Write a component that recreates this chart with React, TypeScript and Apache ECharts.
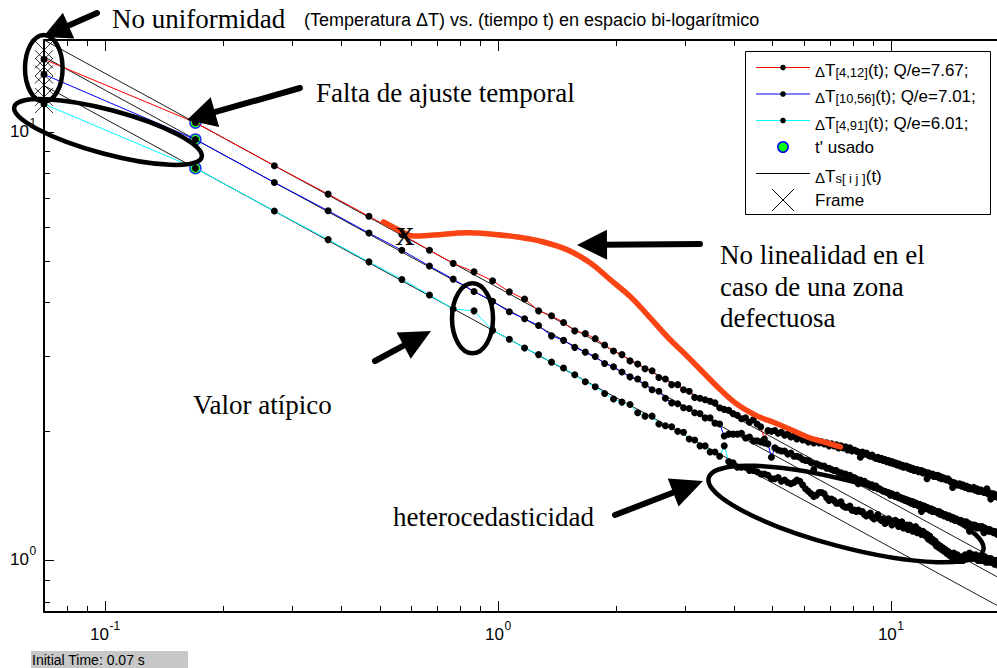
import { useEffect, useRef } from 'react';
import * as echarts from 'echarts';

// Frame times (s), one frame every 0.1 s from the initial time
const TIMES = [
  0.07, 0.17, 0.27, 0.37, 0.47, 0.57, 0.67, 0.77, 0.87, 0.97,
  1.07, 1.17, 1.27, 1.37, 1.47, 1.57, 1.67, 1.77, 1.87, 1.97,
  2.07, 2.17, 2.27, 2.37, 2.47, 2.57, 2.67, 2.77, 2.87, 2.97,
  3.07, 3.17, 3.27, 3.37, 3.47, 3.57, 3.67, 3.77, 3.87, 3.97,
  4.07, 4.17, 4.27, 4.37, 4.47, 4.57, 4.67, 4.77, 4.87, 4.97,
  5.07, 5.17, 5.27, 5.37, 5.47, 5.57, 5.67, 5.77, 5.87, 5.97,
  6.07, 6.17, 6.27, 6.37, 6.47, 6.57, 6.67, 6.77, 6.87, 6.97,
  7.07, 7.17, 7.27, 7.37, 7.47, 7.57, 7.67, 7.77, 7.87, 7.97,
  8.07, 8.17, 8.27, 8.37, 8.47, 8.57, 8.67, 8.77, 8.87, 8.97,
  9.07, 9.17, 9.27, 9.37, 9.47, 9.57, 9.67, 9.77, 9.87, 9.97,
  10.07, 10.17, 10.27, 10.37, 10.47, 10.57, 10.67, 10.77, 10.87, 10.97,
  11.07, 11.17, 11.27, 11.37, 11.47, 11.57, 11.67, 11.77, 11.87, 11.97,
  12.07, 12.17, 12.27, 12.37, 12.47, 12.57, 12.67, 12.77, 12.87, 12.97,
  13.07, 13.17, 13.27, 13.37, 13.47, 13.57, 13.67, 13.77, 13.87, 13.97,
  14.07, 14.17, 14.27, 14.37, 14.47, 14.57, 14.67, 14.77, 14.87, 14.97,
  15.07, 15.17, 15.27, 15.37, 15.47, 15.57, 15.67, 15.77, 15.87, 15.97,
  16.07, 16.17, 16.27, 16.37, 16.47, 16.57, 16.67, 16.77, 16.87, 16.97,
  17.07, 17.17, 17.27, 17.37, 17.47, 17.57, 17.67, 17.77, 17.87, 17.97,
  18.07, 18.17, 18.27, 18.37, 18.47, 18.57, 18.67, 18.77, 18.87, 18.97,
];

// ΔT[4,12](t)
const DT_4_12 = [
  14.75, 10.5, 8.33, 7.15, 6.35, 5.76, 5.29, 4.93, 4.71, 4.49,
  4.23, 4.07, 3.82, 3.72, 3.59, 3.43, 3.38, 3.29, 3.18, 3.08,
  3.02, 2.92, 2.87, 2.8, 2.77, 2.67, 2.65, 2.57, 2.57, 2.5,
  2.48, 2.4, 2.39, 2.37, 2.35, 2.33, 2.27, 2.25, 2.24, 2.2,
  2.18, 2.14, 2.15, 2.1, 2.13, 2.08, 2.05, 1.92, 2.01, 2.0,
  2.01, 1.98, 1.99, 1.96, 1.97, 1.94, 1.95, 1.92, 1.94, 1.91,
  1.92, 1.89, 1.91, 1.88, 1.9, 1.88, 1.89, 1.87, 1.88, 1.85,
  1.87, 1.85, 1.86, 1.83, 1.85, 1.83, 1.84, 1.81, 1.83, 1.8,
  1.81, 1.8, 1.79, 1.74, 1.79, 1.77, 1.78, 1.76, 1.75, 1.76,
  1.74, 1.73, 1.74, 1.72, 1.73, 1.71, 1.72, 1.7, 1.71, 1.69,
  1.7, 1.68, 1.69, 1.67, 1.68, 1.66, 1.67, 1.65, 1.66, 1.66,
  1.64, 1.65, 1.63, 1.64, 1.62, 1.63, 1.63, 1.61, 1.62, 1.62,
  1.6, 1.61, 1.6, 1.55, 1.6, 1.59, 1.58, 1.59, 1.57, 1.58,
  1.57, 1.58, 1.56, 1.57, 1.55, 1.56, 1.55, 1.55, 1.54, 1.55,
  1.54, 1.53, 1.52, 1.48, 1.52, 1.51, 1.51, 1.5, 1.5, 1.51,
  1.5, 1.49, 1.5, 1.49, 1.48, 1.49, 1.48, 1.47, 1.48, 1.47,
  1.47, 1.47, 1.48, 1.46, 1.46, 1.47, 1.45, 1.46, 1.45, 1.46,
  1.45, 1.45, 1.44, 1.45, 1.44, 1.47, 1.43, 1.44, 1.43, 1.39,
  1.43, 1.42, 1.43, 1.41, 1.42, 1.41, 1.42, 1.4, 1.41, 1.4,
];

// ΔT[10,56](t)
const DT_10_56 = [
  13.6, 9.59, 7.61, 6.54, 5.8, 5.29, 4.86, 4.53, 4.24, 4.02,
  3.8, 3.66, 3.53, 3.34, 3.26, 3.14, 3.06, 2.99, 2.88, 2.83,
  2.75, 2.68, 2.65, 2.57, 2.5, 2.48, 2.39, 2.33, 2.32, 2.27,
  2.26, 2.21, 2.2, 2.15, 2.15, 2.09, 2.08, 1.95, 1.97, 1.97,
  1.97, 1.98, 1.93, 1.94, 1.9, 1.9, 1.89, 1.88, 1.87, 1.74,
  1.83, 1.81, 1.8, 1.8, 1.77, 1.78, 1.75, 1.75, 1.74, 1.72,
  1.71, 1.71, 1.69, 1.63, 1.68, 1.67, 1.66, 1.66, 1.64, 1.64,
  1.63, 1.62, 1.62, 1.6, 1.6, 1.59, 1.59, 1.57, 1.58, 1.56,
  1.56, 1.55, 1.51, 1.54, 1.52, 1.53, 1.51, 1.51, 1.49, 1.5,
  1.48, 1.49, 1.47, 1.47, 1.46, 1.45, 1.45, 1.44, 1.44, 1.42,
  1.43, 1.42, 1.41, 1.42, 1.4, 1.4, 1.39, 1.39, 1.38, 1.38,
  1.37, 1.37, 1.36, 1.37, 1.35, 1.36, 1.35, 1.34, 1.35, 1.3,
  1.34, 1.34, 1.32, 1.33, 1.32, 1.31, 1.32, 1.3, 1.31, 1.3,
  1.3, 1.29, 1.3, 1.28, 1.29, 1.28, 1.27, 1.28, 1.27, 1.26,
  1.27, 1.26, 1.25, 1.26, 1.25, 1.24, 1.25, 1.24, 1.24, 1.23,
  1.24, 1.23, 1.22, 1.23, 1.22, 1.23, 1.21, 1.22, 1.17, 1.21,
  1.21, 1.21, 1.2, 1.21, 1.2, 1.19, 1.2, 1.2, 1.19, 1.19,
  1.2, 1.19, 1.16, 1.19, 1.18, 1.18, 1.18, 1.17, 1.18, 1.17,
  1.17, 1.17, 1.16, 1.17, 1.16, 1.16, 1.15, 1.16, 1.15, 1.16,
];

// ΔT[4,91](t)
const DT_4_91 = [
  11.6, 8.22, 6.53, 5.6, 4.97, 4.52, 4.16, 3.86, 3.82, 3.44,
  3.28, 3.13, 3.02, 2.9, 2.81, 2.71, 2.61, 2.54, 2.45, 2.38,
  2.34, 2.31, 2.21, 2.17, 2.17, 2.08, 2.06, 2.05, 2.0, 1.99,
  1.92, 1.91, 1.85, 1.85, 1.79, 1.79, 1.75, 1.85, 1.7, 1.69,
  1.65, 1.65, 1.65, 1.62, 1.62, 1.61, 1.59, 1.59, 1.58, 1.55,
  1.55, 1.56, 1.53, 1.54, 1.52, 1.51, 1.52, 1.54, 1.53, 1.5,
  1.47, 1.45, 1.43, 1.41, 1.42, 1.44, 1.44, 1.43, 1.4, 1.38,
  1.39, 1.38, 1.36, 1.36, 1.37, 1.34, 1.33, 1.33, 1.34, 1.31,
  1.31, 1.3, 1.31, 1.3, 1.3, 1.28, 1.27, 1.28, 1.29, 1.26,
  1.25, 1.26, 1.28, 1.25, 1.24, 1.25, 1.22, 1.23, 1.25, 1.24,
  1.21, 1.22, 1.24, 1.23, 1.2, 1.22, 1.23, 1.19, 1.2, 1.21,
  1.18, 1.21, 1.19, 1.17, 1.19, 1.2, 1.16, 1.18, 1.17, 1.15,
  1.17, 1.16, 1.14, 1.15, 1.12, 1.14, 1.11, 1.12, 1.1, 1.11,
  1.08, 1.09, 1.07, 1.08, 1.06, 1.07, 1.05, 1.06, 1.04, 1.05,
  1.03, 1.04, 1.02, 1.03, 1.04, 1.02, 1.01, 1.03, 1.02, 1.0,
  1.01, 1.02, 1.0, 1.01, 1.03, 1.02, 1.01, 1.03, 1.04, 1.02,
  1.01, 1.03, 1.02, 1.01, 1.03, 1.02, 1.0, 1.01, 1.02, 1.0,
  1.01, 1.0, 1.02, 1.01, 0.99, 1.01, 1.0, 0.99, 1.0, 1.01,
  0.99, 0.99, 1.0, 0.98, 0.99, 1.0, 0.98, 0.99, 0.97, 0.98,
];

// Fitted ΔTs lines (straight in log-log), end points
const FIT_T = [0.07, 20];
const FIT_4_12 = [16.36, 0.9676];
const FIT_10_56 = [14.95, 0.8843];
const FIT_4_91 = [12.81, 0.7582];

// t' used for each pixel and its value
const T_USED = 0.17;
const T_USED_VALUES = [10.5, 9.59, 8.22];

// First frame marks
const FRAME_T = 0.07;
const FRAME_VALUES = [15.5, 14.75, 14.15, 13.6, 12.85, 12.05, 11.6];

// Curve of a defective zone
const DEFECT_T = [0.512, 0.566, 0.61, 0.686, 0.837, 0.958, 1.122, 1.307, 1.504, 1.721, 1.936, 2.176, 2.404, 2.703, 3.039, 3.338, 3.687, 4.073, 4.58, 5.029, 5.557, 6.138, 6.743, 7.447];
const DEFECT_V = [6.16, 5.87, 5.71, 5.74, 5.81, 5.77, 5.68, 5.53, 5.3, 4.94, 4.51, 4.12, 3.74, 3.32, 2.99, 2.74, 2.5, 2.31, 2.17, 2.1, 2.02, 1.94, 1.89, 1.84];

// Axis ranges and ticks
const T_MIN = 0.07;
const T_MAX = 20;
const V_MIN = 0.758;
const V_MAX = 16.36;
const X_MAJOR = [0.1, 1, 10];
const X_MINOR = [0.08, 0.09, 0.2, 0.3, 0.4, 0.5, 0.6, 0.7, 0.8, 0.9, 2, 3, 4, 5, 6, 7, 8, 9];
const Y_MAJOR = [1, 10];
const Y_MINOR = [0.8, 0.9, 2, 3, 4, 5, 6, 7, 8, 9];

const SANS = '"Liberation Sans", Arial, sans-serif';
const SERIF = '"Liberation Serif", "Times New Roman", serif';

const txt = (x: number, y: number, text: string, font: string, align = 'left', extra: any = {}) => ({
  type: 'text',
  x,
  y,
  z: 100,
  silent: true,
  style: {
    text,
    font,
    fill: '#000',
    align,
    textAlign: align,
    verticalAlign: 'middle',
    textVerticalAlign: 'middle',
    ...extra,
  },
});

function arrow(tail: number[], tip: number[], headLen: number, headHalf: number, width: number) {
  const dx = tip[0] - tail[0];
  const dy = tip[1] - tail[1];
  const L = Math.hypot(dx, dy);
  const ux = dx / L;
  const uy = dy / L;
  const bx = tip[0] - ux * headLen;
  const by = tip[1] - uy * headLen;
  const px = -uy;
  const py = ux;
  return [
    {
      type: 'line', z: 100, silent: true,
      shape: { x1: tail[0], y1: tail[1], x2: bx + ux * 3, y2: by + uy * 3 },
      style: { stroke: '#000', lineWidth: width, lineCap: 'round' },
    },
    {
      type: 'polygon', z: 100, silent: true,
      shape: { points: [tip, [bx + px * headHalf, by + py * headHalf], [bx - px * headHalf, by - py * headHalf]] },
      style: { fill: '#000' },
    },
  ];
}

function ellipse(cx: number, cy: number, rx: number, ry: number, deg: number) {
  return {
    type: 'ellipse', z: 100, silent: true,
    x: cx, y: cy, rotation: (deg * Math.PI) / 180,
    shape: { cx: 0, cy: 0, rx, ry },
    style: { fill: 'none', stroke: '#000', lineWidth: 4.5 },
  };
}

const LEG_RICH = {
  t: { fontSize: 17, fontFamily: SANS, lineHeight: 22, fill: '#000', verticalAlign: 'bottom' },
  d: { fontSize: 15, fontFamily: SANS, lineHeight: 20, fill: '#000', verticalAlign: 'bottom' },
  s: { fontSize: 13, fontFamily: SANS, lineHeight: 14, fill: '#000', verticalAlign: 'bottom' },
};

function legendGraphics() {
  const rows = [67.5, 94, 120.5, 147, 173.5, 200];
  const x1 = 756;
  const x2 = 810;
  const xm = 783;
  const tx = 815;
  const els: any[] = [
    {
      type: 'rect', z: 99, silent: true,
      shape: { x: 745.5, y: 51.5, width: 245, height: 163 },
      style: { fill: '#fff', stroke: '#000', lineWidth: 1 },
    },
  ];
  const lineRow = (y: number, color: string, dot: boolean) => {
    els.push({ type: 'line', z: 100, silent: true, shape: { x1, y1: y, x2, y2: y }, style: { stroke: color, lineWidth: 1 } });
    if (dot) els.push({ type: 'circle', z: 101, silent: true, shape: { cx: xm, cy: y, r: 2.8 }, style: { fill: '#000' } });
  };
  lineRow(rows[0], '#ff0000', true);
  lineRow(rows[1], '#0000ff', true);
  lineRow(rows[2], '#00ffff', true);
  els.push({ type: 'circle', z: 100, silent: true, shape: { cx: xm, cy: rows[3], r: 5.2 }, style: { fill: '#00ff00', stroke: '#0000ff', lineWidth: 1.5 } });
  lineRow(rows[4], '#000000', false);
  els.push({ type: 'line', z: 100, silent: true, shape: { x1: xm - 11, y1: rows[5] - 11, x2: xm + 11, y2: rows[5] + 11 }, style: { stroke: '#000', lineWidth: 1 } });
  els.push({ type: 'line', z: 100, silent: true, shape: { x1: xm + 11, y1: rows[5] - 11, x2: xm - 11, y2: rows[5] + 11 }, style: { stroke: '#000', lineWidth: 1 } });

  const richRow = (y: number, text: string) =>
    els.push({
      type: 'text', x: tx, y, z: 101, silent: true,
      style: { text, rich: LEG_RICH, fill: '#000', align: 'left', textAlign: 'left', verticalAlign: 'middle', textVerticalAlign: 'middle' },
    });
  richRow(rows[0], '{d|Δ}{t|T}{s|[4,12]}{t|(t); Q/e=7.67;}');
  richRow(rows[1], '{d|Δ}{t|T}{s|[10,56]}{t|(t); Q/e=7.01;}');
  richRow(rows[2], '{d|Δ}{t|T}{s|[4,91]}{t|(t); Q/e=6.01;}');
  els.push(txt(tx, rows[3], "t' usado", `17px ${SANS}`));
  richRow(rows[4], '{d|Δ}{t|T}{s|s[ i j ]}{t|(t)}');
  els.push(txt(tx, rows[5], 'Frame', `17px ${SANS}`));
  return els;
}

function renderXTick(_params: any, api: any) {
  const v = api.value(0);
  const major = api.value(2) === 1;
  const b = api.coord([v, V_MIN]);
  const t = api.coord([v, V_MAX]);
  const x = Math.round(b[0]) + 0.5;
  const len = major ? 10 : 5;
  const children: any[] = [
    { type: 'line', shape: { x1: x, y1: b[1] - 1, x2: x, y2: b[1] - 1 - len }, style: { stroke: '#000', lineWidth: 1 } },
    { type: 'line', shape: { x1: x, y1: t[1] + 1, x2: x, y2: t[1] + 1 + len }, style: { stroke: '#000', lineWidth: 1 } },
  ];
  if (major) {
    const e = String(Math.round(Math.log10(v)));
    const ew = e.length > 1 ? 10.7 : 6.7;
    const right = b[0] + (18.9 - ew) / 2;
    children.push({
      type: 'text', x: right, y: b[1] + 22,
      style: { text: '10', font: `17px ${SANS}`, fill: '#000', align: 'right', textAlign: 'right', verticalAlign: 'middle', textVerticalAlign: 'middle' },
    });
    children.push({
      type: 'text', x: right + 0.5, y: b[1] + 14,
      style: { text: e, font: `12px ${SANS}`, fill: '#000', align: 'left', textAlign: 'left', verticalAlign: 'middle', textVerticalAlign: 'middle' },
    });
  }
  return { type: 'group', children };
}

function renderYTick(_params: any, api: any) {
  const v = api.value(1);
  const major = api.value(2) === 1;
  const l = api.coord([T_MIN, v]);
  const y = Math.round(l[1]) + 0.5;
  const len = major ? 9 : 5;
  const children: any[] = [
    { type: 'line', shape: { x1: l[0] + 1, y1: y, x2: l[0] + 1 + len, y2: y }, style: { stroke: '#000', lineWidth: 1 } },
  ];
  if (major) {
    const e = String(Math.round(Math.log10(v)));
    children.push({
      type: 'text', x: l[0] - 15, y: l[1] - 0.5,
      style: { text: '10', font: `17px ${SANS}`, fill: '#000', align: 'right', textAlign: 'right', verticalAlign: 'middle', textVerticalAlign: 'middle' },
    });
    children.push({
      type: 'text', x: l[0] - 14.5, y: l[1] - 9,
      style: { text: e, font: `12px ${SANS}`, fill: '#000', align: 'left', textAlign: 'left', verticalAlign: 'middle', textVerticalAlign: 'middle' },
    });
  }
  return { type: 'group', children };
}

function buildOption() {
  const axisBase = {
    type: 'log',
    logBase: 10,
    axisLine: { show: true, onZero: false, lineStyle: { color: '#000', width: 2 } },
    axisTick: { show: false },
    minorTick: { show: false },
    axisLabel: { show: false },
    splitLine: { show: false },
    minorSplitLine: { show: false },
    silent: true,
  };
  const fit = (vals: number[]) => ({
    type: 'line', name: 'ΔTs', data: FIT_T.map((t, i) => [t, vals[i]]),
    symbol: 'none', lineStyle: { color: '#000', width: 0.9 }, z: 2, clip: false, silent: true,
  });
  const meas = (name: string, vals: number[], color: string) => ({
    type: 'line', name, data: TIMES.map((t, i) => [t, vals[i]]),
    symbol: 'circle', symbolSize: 7, showSymbol: true, showAllSymbol: true,
    itemStyle: { color: '#000', borderWidth: 0 }, lineStyle: { color, width: 1 },
    z: 4, clip: false, silent: true,
  });
  const xTicks = [...X_MAJOR.map((v) => [v, V_MIN, 1]), ...X_MINOR.map((v) => [v, V_MIN, 0])];
  const yTicks = [...Y_MAJOR.map((v) => [T_MIN, v, 1]), ...Y_MINOR.map((v) => [T_MIN, v, 0])];

  return {
    animation: false,
    backgroundColor: '#ffffff',
    grid: { left: 44, top: 40, width: 965, height: 572, containLabel: false, outerBoundsMode: 'none' },
    xAxis: [
      { ...axisBase, min: T_MIN, max: T_MAX, position: 'bottom' },
      { ...axisBase, min: T_MIN, max: T_MAX, position: 'top' },
    ],
    yAxis: [{ ...axisBase, min: V_MIN, max: V_MAX, position: 'left' }],
    series: [
      fit(FIT_4_12),
      fit(FIT_10_56),
      fit(FIT_4_91),
      {
        type: 'scatter', name: "t' usado", data: T_USED_VALUES.map((v) => [T_USED, v]),
        symbol: 'circle', symbolSize: 11,
        itemStyle: { color: '#00ff00', borderColor: '#0000ff', borderWidth: 1.5 },
        z: 3, clip: false, silent: true,
      },
      meas('ΔT[4,12](t)', DT_4_12, '#ff0000'),
      meas('ΔT[10,56](t)', DT_10_56, '#0000ff'),
      meas('ΔT[4,91](t)', DT_4_91, '#00ffff'),
      {
        type: 'scatter', name: 'Frame', data: FRAME_VALUES.map((v) => [FRAME_T, v]),
        symbol: 'path://M0,0L20,20M20,0L0,20', symbolSize: 18,
        itemStyle: { color: 'transparent', borderColor: '#000', borderWidth: 1 },
        z: 5, clip: false, silent: true,
      },
      {
        type: 'line', name: 'defecto', data: DEFECT_T.map((t, i) => [t, DEFECT_V[i]]),
        smooth: 0.4, symbol: 'none',
        lineStyle: { color: '#fb4414', width: 5.5, cap: 'round', join: 'round' },
        z: 6, clip: false, silent: true,
      },
      {
        type: 'custom', name: 'xticks', coordinateSystem: 'cartesian2d', data: xTicks,
        encode: { x: 0, y: 1 }, renderItem: renderXTick, z: 10, clip: false, silent: true,
      },
      {
        type: 'custom', name: 'yticks', coordinateSystem: 'cartesian2d', data: yTicks,
        encode: { x: 0, y: 1 }, renderItem: renderYTick, z: 10, clip: false, silent: true,
      },
    ],
    graphic: {
      elements: [
        txt(304, 20, '(Temperatura ΔT) vs. (tiempo t) en espacio bi-logarítmico', `18px ${SANS}`),
        txt(112, 19, 'No uniformidad', `27px ${SERIF}`),
        txt(316, 93, 'Falta de ajuste temporal', `27px ${SERIF}`),
        txt(720, 255, 'No linealidad en el', `27px ${SERIF}`),
        txt(720, 287, 'caso de una zona', `27px ${SERIF}`),
        txt(720, 318, 'defectuosa', `27px ${SERIF}`),
        txt(193, 405, 'Valor atípico', `27px ${SERIF}`),
        txt(393, 517, 'heterocedasticidad', `27px ${SERIF}`),
        txt(405, 236, 'X', `bold 26px ${SERIF}`, 'center'),
        ...arrow([97, 13], [43, 37], 28, 14, 6),
        ...arrow([300, 88], [187, 120], 29, 15.5, 6),
        ...arrow([700, 244], [577, 245], 30, 15, 6),
        ...arrow([375, 361], [431, 331], 31, 15, 6),
        ...arrow([615, 515], [703, 481], 32, 15, 6),
        ellipse(43.8, 68.3, 18.8, 33.3, 0),
        ellipse(108, 132, 97, 22, -15),
        ellipse(472.5, 318.3, 20.5, 35, 0),
        ellipse(846, 514, 142, 33, -14.8),
        ...legendGraphics(),
        {
          type: 'rect', z: 100, silent: true,
          shape: { x: 31, y: 651, width: 157, height: 17 },
          style: { fill: '#c8c8c8' },
        },
        txt(32, 660, 'Initial Time: 0.07 s', `14px ${SANS}`),
      ],
    },
  };
}

export default function App() {
  const ref = useRef<HTMLDivElement>(null);
  useEffect(() => {
    const el = ref.current;
    if (!el) return;
    const chart = echarts.init(el, undefined, { renderer: 'svg' });
    chart.setOption(buildOption() as any);
    return () => chart.dispose();
  }, []);
  return (
    <div
      ref={ref}
      style={{ position: 'fixed', left: 0, top: 0, width: 997, height: 668, background: '#fff' }}
    />
  );
}
